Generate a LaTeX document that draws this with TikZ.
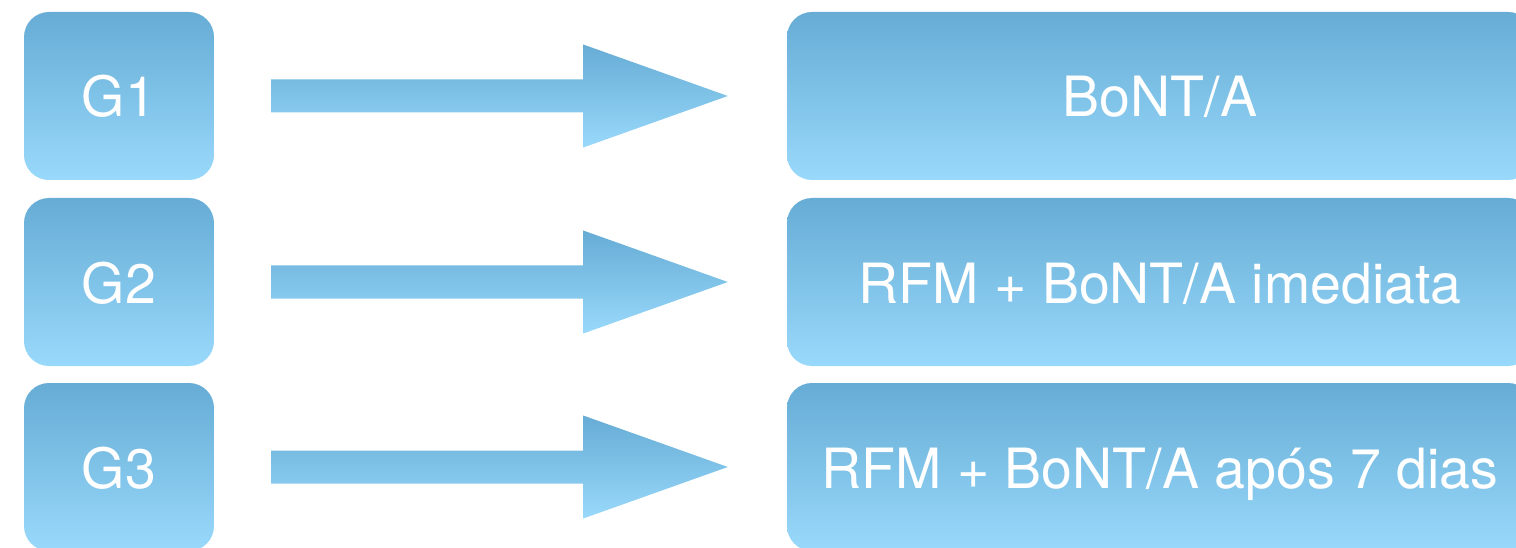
\documentclass[tikz,border=0pt]{standalone}
\usepackage{fontspec}
\setmainfont{TeX Gyre Heros}
\usetikzlibrary{calc}
\definecolor{boxtop}{RGB}{102,172,213}
\definecolor{boxbottom}{RGB}{153,217,251}
\tikzset{
  groupbox/.style={rounded corners=25pt, top color=boxtop, bottom color=boxbottom,
    draw=none, minimum width=190pt, minimum height=168pt, inner sep=0pt,
    text=white, font=\fontsize{55.5}{60}\selectfont, text height=42pt, text depth=0pt},
  treatbox/.style={groupbox, minimum width=746pt},
  blockarrow/.style={top color=boxtop, bottom color=boxbottom, draw=none}
}
\begin{document}
\begin{tikzpicture}[x=1pt, y=-1pt]
  \useasboundingbox (0,0) rectangle (1516,548);
  \clip (0,0) rectangle (1516,548);

  % groups on the left
  \node[groupbox] (g1) at (119,96)  {G1};
  \node[groupbox] (g2) at (119,282) {G2};
  \node[groupbox] (g3) at (119,467) {G3};

  % treatments on the right
  \node[treatbox] (r1) at (1160,96)  {BoNT/A};
  \node[treatbox] (r2) at (1160,282) {RFM + BoNT/A imediata};
  \node[treatbox] (r3) at (1160,467) {RFM + BoNT/A após 7 dias};

  % block arrows from each group to its treatment
  \foreach \i in {1,2,3} {
    \path[blockarrow]
      ($(g\i.east)+(57,-16.5)$) -- ++(312,0) -- ++(0,-35)
      -- ($(r\i.west)+(-59,0)$)
      -- ($(g\i.east)+(369,51.5)$) -- ++(0,-35) -- ++(-312,0) -- cycle;
  }
\end{tikzpicture}
\end{document}
